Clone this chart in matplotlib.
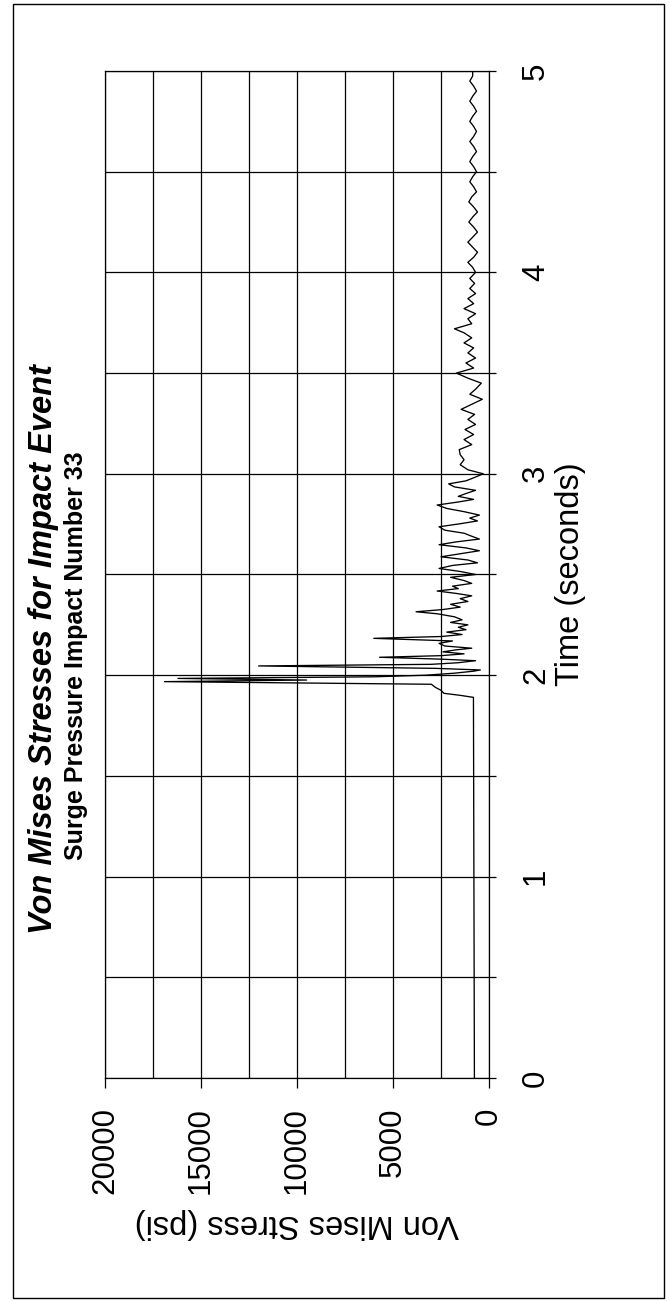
import matplotlib
matplotlib.use("Agg")
import matplotlib.pyplot as plt
from matplotlib.patches import Rectangle
from matplotlib.ticker import MultipleLocator

plt.rcParams["font.family"] = ["Liberation Sans", "DejaVu Sans"]

# --- data: time (s) vs von Mises stress (psi)
time_s = [
    0.00, 0.40, 0.80, 1.20, 1.60, 1.89, 1.90, 1.91, 1.925, 1.94, 1.955,
    1.968, 1.976, 1.984, 1.992, 2.000, 2.010, 2.020, 2.026, 2.034, 2.046,
    2.054, 2.062, 2.072, 2.080, 2.089, 2.097, 2.106, 2.116, 2.126, 2.134,
    2.145, 2.158, 2.170, 2.183, 2.192, 2.202, 2.214, 2.226, 2.238, 2.250,
    2.262, 2.275, 2.290, 2.305, 2.315, 2.326, 2.338, 2.352, 2.366, 2.380,
    2.394, 2.406, 2.418, 2.430, 2.442, 2.456, 2.470, 2.486, 2.500, 2.515,
    2.530, 2.545, 2.558, 2.572, 2.588, 2.603, 2.618, 2.632, 2.648, 2.662,
    2.676, 2.690, 2.705, 2.720, 2.737, 2.752, 2.766, 2.780, 2.795, 2.812,
    2.828, 2.845, 2.860, 2.873, 2.888, 2.902, 2.918, 2.935, 2.950, 2.965,
    2.980, 3.000, 3.020, 3.045, 3.070, 3.095, 3.120, 3.145, 3.170, 3.195,
    3.220, 3.245, 3.270, 3.295, 3.320, 3.345, 3.370, 3.395, 3.420, 3.450,
    3.475, 3.500, 3.525, 3.550, 3.575, 3.600, 3.625, 3.650, 3.675, 3.700,
    3.720, 3.745, 3.770, 3.795, 3.820, 3.845, 3.870, 3.895, 3.920, 3.945,
    3.970, 4.000, 4.025, 4.050, 4.075, 4.100, 4.125, 4.150, 4.175, 4.200,
    4.225, 4.250, 4.275, 4.300, 4.325, 4.350, 4.375, 4.400, 4.425, 4.450,
    4.475, 4.500, 4.525, 4.550, 4.575, 4.600, 4.625, 4.650, 4.675, 4.700,
    4.725, 4.750, 4.775, 4.800, 4.825, 4.850, 4.875, 4.900, 4.925, 4.950,
    4.975, 5.000,
]
stress_psi = [
    760, 770, 780, 790, 800, 810, 1500, 2350, 2500, 2800, 3000,
    16900, 9500, 16200, 6000, 3300, 1800, 800, 450, 2800, 12000,
    3000, 1600, 700, 2600, 5700, 2500, 1300, 2400, 1700, 900,
    2300, 2600, 1900, 6000, 2500, 1400, 2200, 1200, 1600, 1100,
    2000, 1400, 1800, 2700, 3800, 2400, 1500, 2000, 1100, 1500,
    900, 1700, 2700, 1600, 1900, 900, 1300, 2000, 700, 1500,
    2600, 1900, 600, 1100, 2500, 1500, 500, 1200, 2600, 1700,
    500, 900, 1300, 2300, 2600, 1500, 600, 1000, 500, 1300,
    2200, 2700, 1600, 800, 1600, 1200, 700, 1800, 2100, 1200,
    800, 300, 1100, 1500, 1300, 1500, 1550, 900, 1300, 800,
    1250, 700, 1100, 750, 1450, 900, 350, 1000, 700, 400,
    1100, 1700, 800, 1200, 700, 1100, 800, 1300, 900, 1300,
    1800, 900, 1100, 700, 1300, 800, 1100, 700, 1000, 750,
    1000, 700, 850, 1100, 800, 600, 850, 1100, 850, 600,
    800, 1050, 850, 600, 800, 1050, 900, 650, 800, 1000,
    850, 650, 800, 1000, 850, 650, 800, 1000, 800, 650,
    800, 1000, 850, 650, 800, 1000, 850, 650, 800, 1000,
    850, 850,
]

stress_ticks = [0, 5000, 10000, 15000, 20000]
time_ticks = [0, 1, 2, 3, 4, 5]

fig = plt.figure(figsize=(6.70, 13.01), dpi=100)
W, H = 670, 1301
ax = fig.add_axes([105 / W, 1 - 1078 / H, (489 - 105) / W, (1078 - 71) / H])

ax.plot(stress_psi, time_s, color="black", lw=0.95)
ax.set_xlim(20000, 0)
ax.set_ylim(0, 5)

ax.set_xticks(stress_ticks)
ax.set_xticklabels([str(v) for v in stress_ticks], rotation=90)
ax.xaxis.set_minor_locator(MultipleLocator(2500))
ax.set_yticks(time_ticks)
ax.yaxis.set_minor_locator(MultipleLocator(0.5))
ax.yaxis.tick_right()
ax.set_yticklabels([str(v) for v in time_ticks], rotation=90, va="center")

ax.tick_params(axis="x", which="major", direction="out", length=7,
               width=0.9, labelsize=22.5, pad=14)
ax.tick_params(axis="x", which="minor", length=0)
ax.tick_params(axis="y", which="both", direction="out", length=5,
               width=0.9, labelsize=22.5, pad=18)
ax.grid(True, which="both", color="black", lw=0.9)
for sp in ax.spines.values():
    sp.set_linewidth(0.9)

ax.set_xlabel("Von Mises Stress (psi)", fontsize=23.5, rotation=180,
              labelpad=10)
ax.yaxis.set_label_position("right")
ax.set_ylabel("Time (seconds)", fontsize=23.5, rotation=90, labelpad=3)

fig.text(44 / W, 1 - 649 / H, "Von Mises Stresses for Impact Event",
         rotation=90, ha="center", va="center", fontsize=23.5,
         fontweight="bold", fontstyle="italic")
fig.text(76 / W, 1 - 656 / H, "Surge Pressure Impact Number 33",
         rotation=90, ha="center", va="center", fontsize=18,
         fontweight="bold")

fig.patches.append(Rectangle((13 / W, 1 - 1298 / H), (664 - 13) / W,
                             (1298 - 4) / H, transform=fig.transFigure,
                             fill=False, ec="black", lw=1.0))

fig.savefig("out.png", dpi=100)
